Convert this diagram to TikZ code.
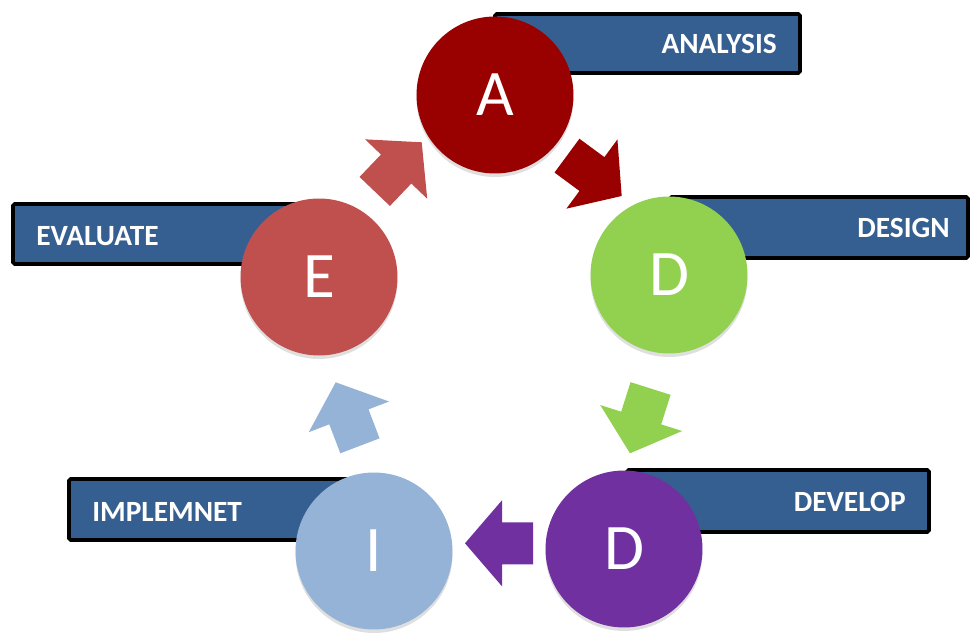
\documentclass[tikz,border=0pt]{standalone}
\usepackage{fontspec}
\setmainfont{Carlito}
\usetikzlibrary{shadows}
\definecolor{barblue}{HTML}{365F91}
\definecolor{analysisred}{HTML}{990000}
\definecolor{designgreen}{HTML}{92D050}
\definecolor{developpurple}{HTML}{7030A0}
\definecolor{implementblue}{HTML}{95B3D7}
\definecolor{evaluatered}{HTML}{C0504D}

\begin{document}
\begin{tikzpicture}[
    x=0.02cm, y=-0.02cm,
    bar/.style={draw=black, fill=barblue, line width=2.2pt, rounded corners=1pt},
    barlabel/.style={font=\fontsize{16.7}{17}\selectfont\bfseries, text=white, inner sep=0pt},
    phase/.style={circle, minimum size=3.14cm, inner sep=0pt, text=white,
        font=\fontsize{37}{37}\selectfont,
        drop shadow={opacity=0.25, shadow xshift=0pt, shadow yshift=-2pt}}
]
\useasboundingbox (0,0) rectangle (971,634);

% Banners behind the circles.
\draw[bar] (495,14) rectangle (800,73);
\draw[bar] (670,197) rectangle (968,258);
\draw[bar] (627,470) rectangle (929,532);
\draw[bar] (69,479) rectangle (370,540);
\draw[bar] (13,204) rectangle (313,264);
\node[barlabel, anchor=east] (analysislabel) at (777,44) {ANALYSIS};
\node[barlabel, anchor=east] (designlabel) at (950,228) {DESIGN};
\node[barlabel, anchor=east] (developlabel) at (906,502) {DEVELOP};
\node[barlabel, anchor=west] (implementlabel) at (92,512) {IMPLEMNET};
\node[barlabel, anchor=west] (evaluatelabel) at (36,236) {EVALUATE};

% Phase circles.
\node[phase, fill=analysisred] (analysis) at (495,95) {A};
\node[phase, fill=designgreen] (design) at (669,275) {D};
\node[phase, fill=developpurple] (develop) at (624,549) {D};
\node[phase, fill=implementblue] (implement) at (374,551) {I};
\node[phase, fill=evaluatered] (evaluate) at (319,277) {E};

% Block arrows: tip x / tip y / direction / colour.
\foreach \tx/\ty/\ang/\col in {421.7/142.3/46.3/evaluatered,
    621.7/196/-36.4/analysisred, 630/453.3/-107.6/designgreen,
    465/543.3/180/developpurple, 335.7/382.3/110.9/implementblue} {
    \fill[\col, shift={(\tx,\ty)}, rotate=\ang]
        (0,0) -- (-37,43) -- (-37,21) -- (-68,21) -- (-68,-21)
        -- (-37,-21) -- (-37,-43) -- cycle;
}
\end{tikzpicture}
\end{document}
